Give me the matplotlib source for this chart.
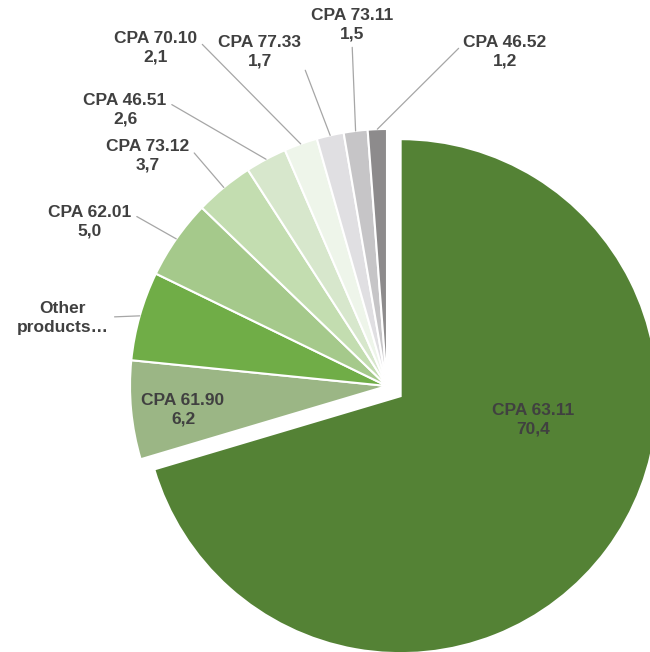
import matplotlib.pyplot as plt
import numpy as np

# data, in drawing order (clockwise from 12 o'clock)
codes = ["CPA 63.11", "CPA 61.90", "Other\nproducts…", "CPA 62.01", "CPA 73.12",
         "CPA 46.51", "CPA 70.10", "CPA 77.33", "CPA 73.11", "CPA 46.52"]
shares = [70.4, 6.2, 5.6, 5.0, 3.7, 2.6, 2.1, 1.7, 1.5, 1.2]
show_value = [True, True, False, True, True, True, True, True, True, True]

colors = ["#548235", "#9bb685", "#70ad47", "#a5c98b", "#c3ddb0",
          "#d7e7cc", "#eef5ea", "#e0dfe2", "#c6c5c7", "#8d8b8c"]

W, H = 650, 652
# label centres in picture pixels (x, y from top), and where the leader leaves the text
label_pos = [(533, 420), (183, 410), (63, 318), (90, 222), (148, 156),
             (125, 110), (156, 48), (260, 52), (352, 25), (505, 52)]
leader_rel = [None, None, (0.75, 0.5), (1.0, 0.75), (1.0, 0.75),
              (1.0, 0.75), (1.0, 0.75), (1.0, 0.25), (0.5, 0.0), (0.0, 0.75)]

TXT = "#404040"
LINE = "#a6a6a6"

fig = plt.figure(figsize=(W / 100, H / 100), dpi=100)
ax = fig.add_axes([0, 0, 1, 1])

cx, cy, R = 387, H - 386, 257
# explode is in data units here (pixels)
explode = [17] + [0] * (len(shares) - 1)
wedges, _ = ax.pie(shares, colors=colors, startangle=90, counterclock=False,
                   explode=explode, center=(cx, cy), radius=R, frame=True,
                   wedgeprops=dict(edgecolor="white", linewidth=1.5))
ax.set_xlim(0, W)
ax.set_ylim(0, H)
ax.set_aspect("equal")
ax.axis("off")

font = dict(family=["Liberation Sans", "DejaVu Sans"], fontweight="bold",
            fontsize=12.5, color=TXT, linespacing=1.3)

for i, w in enumerate(wedges):
    txt = codes[i] + ("\n" + f"{shares[i]:.1f}".replace(".", ",") if show_value[i] else "")
    lx, ly = label_pos[i]
    ly = H - ly
    if leader_rel[i] is None:
        ax.text(lx, ly, txt, ha="center", va="center", **font)
        continue
    ang = np.deg2rad((w.theta1 + w.theta2) / 2)
    px, py = cx + R * np.cos(ang), cy + R * np.sin(ang)
    ax.annotate(txt, xy=(px, py), xytext=(lx, ly), ha="center", va="center",
                arrowprops=dict(arrowstyle="-", color=LINE, lw=0.9,
                                relpos=leader_rel[i], shrinkA=2, shrinkB=0),
                **font)

fig.savefig("out.png", dpi=100)
